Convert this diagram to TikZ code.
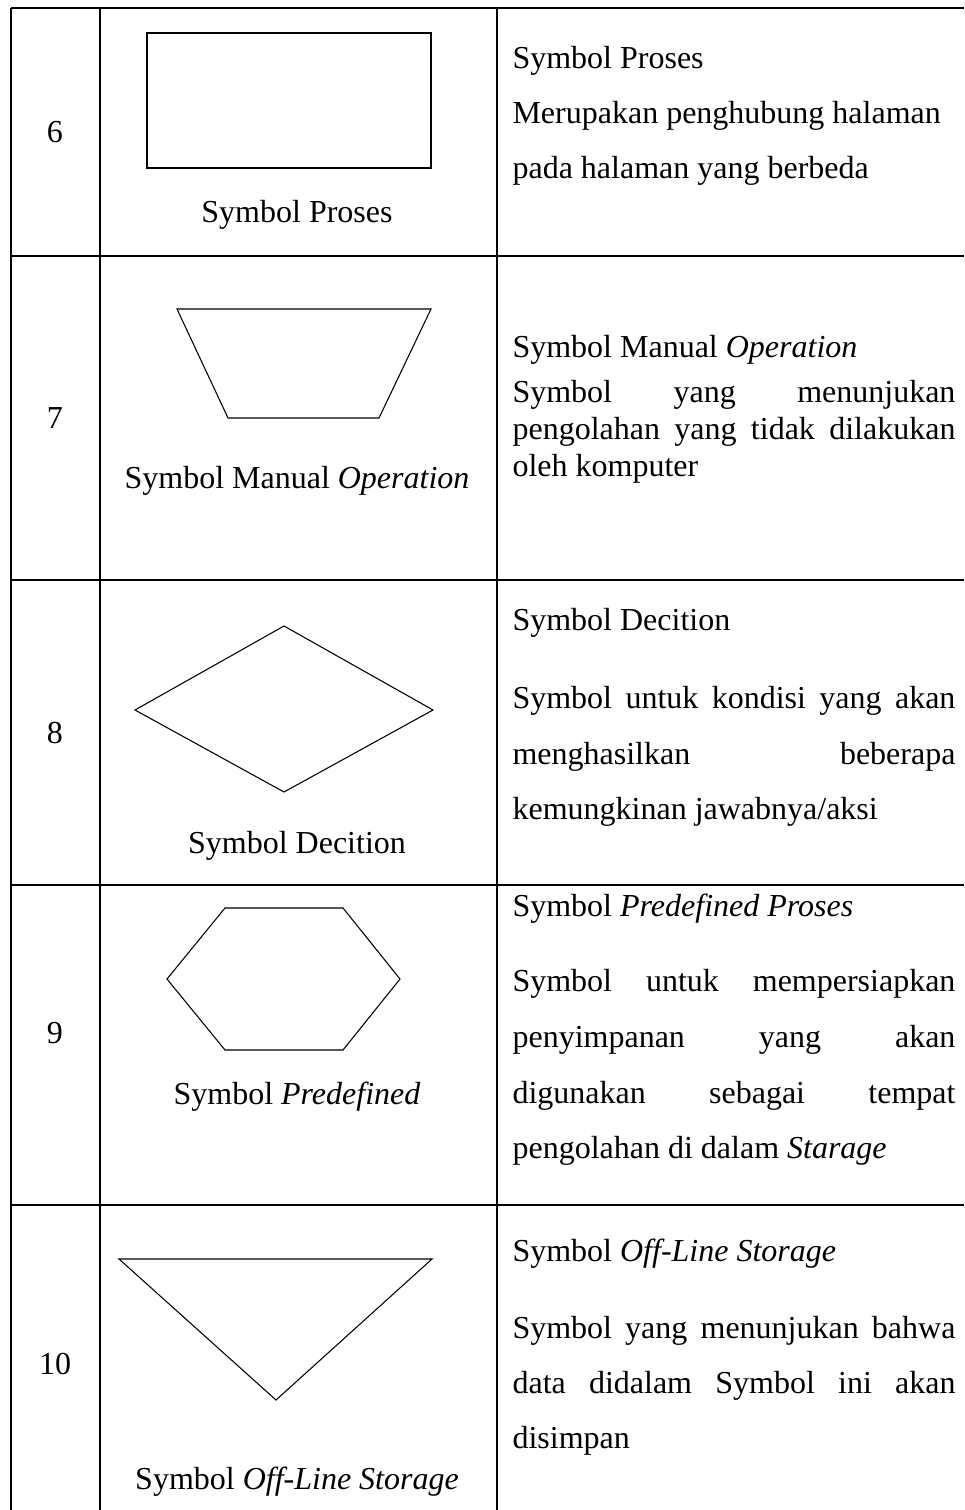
\documentclass[tikz,border=0pt]{standalone}
\usepackage{fontspec}
\setmainfont{Liberation Serif}
\usepackage{tikz}

\tikzset{
  rule/.style={line width=0.55pt},
  sym/.style={line width=0.4pt, line join=miter},
  txt/.style={anchor=base west, inner sep=0pt, font=\fontsize{12}{14}\selectfont},
  symname/.style={anchor=base, inner sep=0pt, font=\fontsize{12}{14}\selectfont},
}
% one justified line of the description column
\newcommand{\jline}[1]{\makebox[166.1pt][s]{#1}}

\begin{document}
\begin{tikzpicture}[x=0.375pt,y=-0.375pt]
  \useasboundingbox (0,0) rectangle (964,1510);
  % table lines
  \foreach \x in {11,100,497} { \draw[rule] (\x,8) -- (\x,1510); }
  \foreach \y in {8,256,580,885,1205} { \draw[rule] (11,\y) -- (964,\y); }

  % numbers
  \node[symname] (n6) at (55,143) {6};
  \node[symname] (n7) at (55,429) {7};
  \node[symname] (n8) at (55,743) {8};
  \node[symname] (n9) at (55,1043) {9};
  \node[symname] (n10) at (55,1374) {10};

  % symbols
  \draw[sym] (147,33) rectangle (431,168);
  \node[symname] (c6) at (297,223) {Symbol Proses};
  \draw[sym] (177,309) -- (431,309) -- (379,418) -- (228,418) -- cycle;
  \node[symname] (c7) at (297,488) {Symbol Manual \textit{Operation}};
  \draw[sym] (135,710) -- (284,626) -- (433,710) -- (284,792) -- cycle;
  \node[symname] (c8) at (297,853) {Symbol Decition};
  \draw[sym] (167,979) -- (225,908) -- (343,908) -- (400,979) -- (343,1050) -- (225,1050) -- cycle;
  \node[symname] (c9) at (297,1104) {Symbol \textit{Predefined}};
  \draw[sym] (119,1259) -- (432,1259) -- (276,1400) -- cycle;
  \node[symname] (c10) at (297,1489) {Symbol \textit{Off-Line Storage}};

  % descriptions
  \node[txt] (d6a) at (512,69) {Symbol Proses};
  \node[txt] (d6b) at (512,124) {Merupakan penghubung halaman};
  \node[txt] (d6c) at (512,179) {pada halaman yang berbeda};

  \node[txt] (d7a) at (512,358) {Symbol Manual \textit{Operation}};
  \node[txt] (d7b) at (512,403) {\jline{Symbol yang menunjukan}};
  \node[txt] (d7c) at (512,440) {\jline{pengolahan yang tidak dilakukan}};
  \node[txt] (d7d) at (512,477) {oleh komputer};

  \node[txt] (d8a) at (512,630) {Symbol Decition};
  \node[txt] (d8b) at (512,708) {\jline{Symbol untuk kondisi yang akan}};
  \node[txt] (d8c) at (512,764) {\jline{menghasilkan beberapa}};
  \node[txt] (d8d) at (512,819) {kemungkinan jawabnya/aksi};

  \node[txt] (d9a) at (512,916) {Symbol \textit{Predefined Proses}};
  \node[txt] (d9b) at (512,991) {\jline{Symbol untuk mempersiapkan}};
  \node[txt] (d9c) at (512,1047) {\jline{penyimpanan yang akan}};
  \node[txt] (d9d) at (512,1103) {\jline{digunakan sebagai tempat}};
  \node[txt] (d9e) at (512,1158) {pengolahan di dalam \textit{Starage}};

  \node[txt] (d10a) at (512,1261) {Symbol \textit{Off-Line Storage}};
  \node[txt] (d10b) at (512,1338) {\jline{Symbol yang menunjukan bahwa}};
  \node[txt] (d10c) at (512,1393) {\jline{data didalam Symbol ini akan}};
  \node[txt] (d10d) at (512,1448) {disimpan};
\end{tikzpicture}
\end{document}
